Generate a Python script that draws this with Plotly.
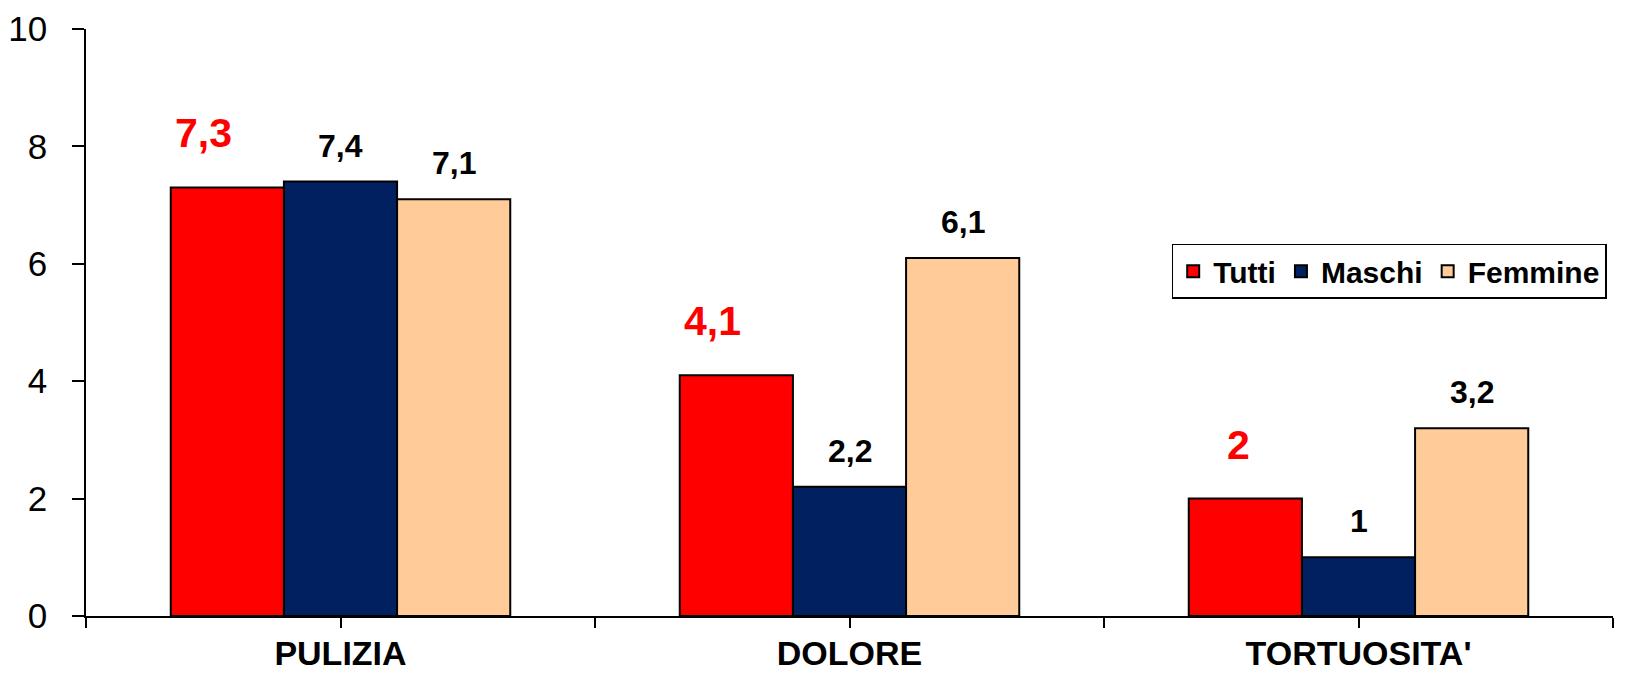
import plotly.graph_objects as go

categories = ["PULIZIA", "DOLORE", "TORTUOSITA'"]
series_names = ["Tutti", "Maschi", "Femmine"]
tutti = [7.3, 4.1, 2.0]
maschi = [7.4, 2.2, 1.0]
femmine = [7.1, 6.1, 3.2]
tutti_labels = ["7,3", "4,1", "2"]
maschi_labels = ["7,4", "2,2", "1"]
femmine_labels = ["7,1", "6,1", "3,2"]
y_ticks = [0, 2, 4, 6, 8, 10]

colors = ["#FF0000", "#002060", "#FFCC99"]
all_values = [tutti, maschi, femmine]
all_labels = [tutti_labels, maschi_labels, femmine_labels]

bargap = 0.333
bar_w = (1 - bargap) / 3
xs = list(range(len(categories)))
FONT = "Liberation Sans, Arial"

fig = go.Figure()
for name, vals, col in zip(series_names, all_values, colors):
    fig.add_trace(go.Bar(
        x=xs, y=vals, name=name,
        marker=dict(color=col, line=dict(color="black", width=2)),
    ))

for j, (vals, labs) in enumerate(zip(all_values, all_labels)):
    is_red = j == 0
    for i, (v, t) in enumerate(zip(vals, labs)):
        fig.add_annotation(
            x=i + (j - 1) * bar_w, y=v, text="<b>%s</b>" % t,
            showarrow=False, xanchor="right" if is_red else "center", yanchor="middle",
            xshift=7 if is_red else 0,
            yshift=54 if is_red else 36,
            font=dict(family=FONT, size=41 if is_red else 32,
                      color="#FF0000" if is_red else "black"),
        )

tickvals = [-0.5, 0, 0.5, 1, 1.5, 2, 2.5]
ticktext = ["", "<b>PULIZIA</b>", "", "<b>DOLORE</b>", "", "<b>TORTUOSITA'</b>", ""]

fig.update_layout(
    width=1637, height=676,
    margin=dict(l=86, r=24, t=29, b=60, autoexpand=False),
    paper_bgcolor="white", plot_bgcolor="white",
    barmode="group", bargap=bargap, bargroupgap=0,
    font=dict(family=FONT, color="black"),
    showlegend=True,
    legend=dict(
        orientation="h", x=0.711, y=0.634, xanchor="left", yanchor="top",
        bgcolor="white", bordercolor="black", borderwidth=1.5,
        font=dict(size=30, color="black", family=FONT, weight="bold"),
        itemwidth=30, tracegroupgap=0,
    ),
    xaxis=dict(
        range=[-0.5, 2.5], tickmode="array", tickvals=tickvals, ticktext=ticktext,
        showline=True, linecolor="black", linewidth=1.5,
        ticks="outside", ticklen=10, tickcolor="black", tickwidth=1.5,
        showgrid=False, zeroline=False, automargin=False,
        tickfont=dict(size=34, color="black"), ticklabelstandoff=-4,
    ),
    yaxis=dict(
        range=[0, 10], tickvals=y_ticks,
        showline=True, linecolor="black", linewidth=1.5,
        ticks="outside", ticklen=12, tickcolor="black", tickwidth=1.5,
        showgrid=False, zeroline=False, automargin=False,
        tickfont=dict(size=35, color="black"), ticklabelstandoff=18,
    ),
)

fig.write_html("out.html")
